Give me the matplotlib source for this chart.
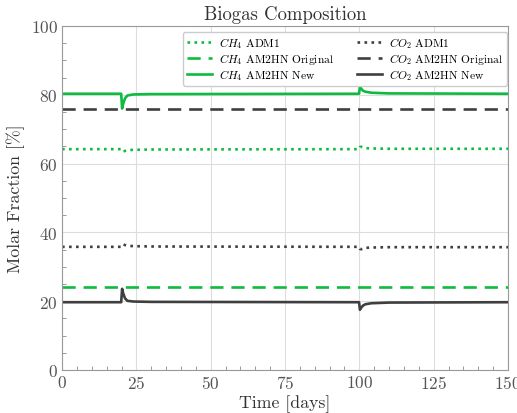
import matplotlib
matplotlib.use("Agg")
import matplotlib.pyplot as plt
from matplotlib.ticker import MultipleLocator

plt.rcParams["font.family"] = "serif"
plt.rcParams["font.serif"] = ["cmr10"]
plt.rcParams["mathtext.fontset"] = "cm"
plt.rcParams["axes.unicode_minus"] = False
plt.rcParams["axes.formatter.use_mathtext"] = True

# time points (days)
t = [0, 19.9, 20.2, 20.6, 21.2, 22, 24, 30, 99.9, 100.2, 100.6, 101.2, 102, 104, 110, 150]

ch4_adm1 = [64.2, 64.2, 63.6, 63.5, 63.7, 63.9, 64.0, 64.1, 64.2, 64.8, 64.9, 64.7, 64.5, 64.4, 64.3, 64.3]
co2_adm1 = [35.8, 35.8, 36.4, 36.5, 36.3, 36.1, 36.0, 35.9, 35.8, 35.2, 35.1, 35.3, 35.5, 35.6, 35.7, 35.7]
ch4_orig = [24.2] * 16
co2_orig = [75.8] * 16
ch4_new = [80.3, 80.3, 76.0, 77.5, 79.0, 79.8, 80.1, 80.2, 80.3, 82.5, 81.8, 81.2, 80.9, 80.6, 80.4, 80.3]
co2_new = [19.7, 19.7, 23.6, 22.2, 20.8, 20.1, 19.9, 19.8, 19.7, 17.5, 18.1, 18.7, 19.1, 19.4, 19.6, 19.7]

green = "#0dbb3f"
dark = "#3f3f3f"

fig, ax = plt.subplots(figsize=(5.17, 4.14), dpi=100)
ax.plot(t, ch4_adm1, color=green, ls=":", lw=1.9, label="$CH_4$ ADM1")
ax.plot(t, ch4_orig, color=green, ls=(0, (5, 3)), lw=1.9, label="$CH_4$ AM2HN Original")
ax.plot(t, ch4_new, color=green, ls="-", lw=1.9, label="$CH_4$ AM2HN New")
ax.plot(t, co2_adm1, color=dark, ls=":", lw=1.9, label="$CO_2$ ADM1")
ax.plot(t, co2_orig, color=dark, ls=(0, (5, 3)), lw=1.9, label="$CO_2$ AM2HN Original")
ax.plot(t, co2_new, color=dark, ls="-", lw=1.9, label="$CO_2$ AM2HN New")

ax.set_xlim(0, 150)
ax.set_ylim(0, 100)
ax.xaxis.set_major_locator(MultipleLocator(25))
ax.xaxis.set_minor_locator(MultipleLocator(5))
ax.yaxis.set_major_locator(MultipleLocator(20))
ax.yaxis.set_minor_locator(MultipleLocator(5))
ax.tick_params(which="both", direction="in", colors="#888888", labelcolor="#555555")
ax.tick_params(which="major", length=0, labelsize=12.5, pad=3)
ax.tick_params(which="minor", length=3)
ax.grid(True, which="major", color="#dddddd", lw=0.8)
for s in ax.spines.values():
    s.set_color("#999999")

ax.set_title("Biogas Composition", fontsize=13.5, pad=5, color="#333333")
ax.set_xlabel("Time [days]", fontsize=12.8, labelpad=2, color="#333333")
ax.set_ylabel("Molar Fraction [%]", fontsize=12.8, labelpad=4, color="#333333")
ax.legend(loc="upper right", bbox_to_anchor=(0.998, 0.983), borderaxespad=0, ncol=2,
          fontsize=8.3, handlelength=2.2, handletextpad=0.6, columnspacing=2.0,
          labelspacing=0.08, borderpad=0.3, fancybox=True, framealpha=1, edgecolor="#cccccc")

fig.subplots_adjust(left=0.12, right=0.9826, top=0.9348, bottom=0.1039)
fig.savefig("out.png", dpi=100)
